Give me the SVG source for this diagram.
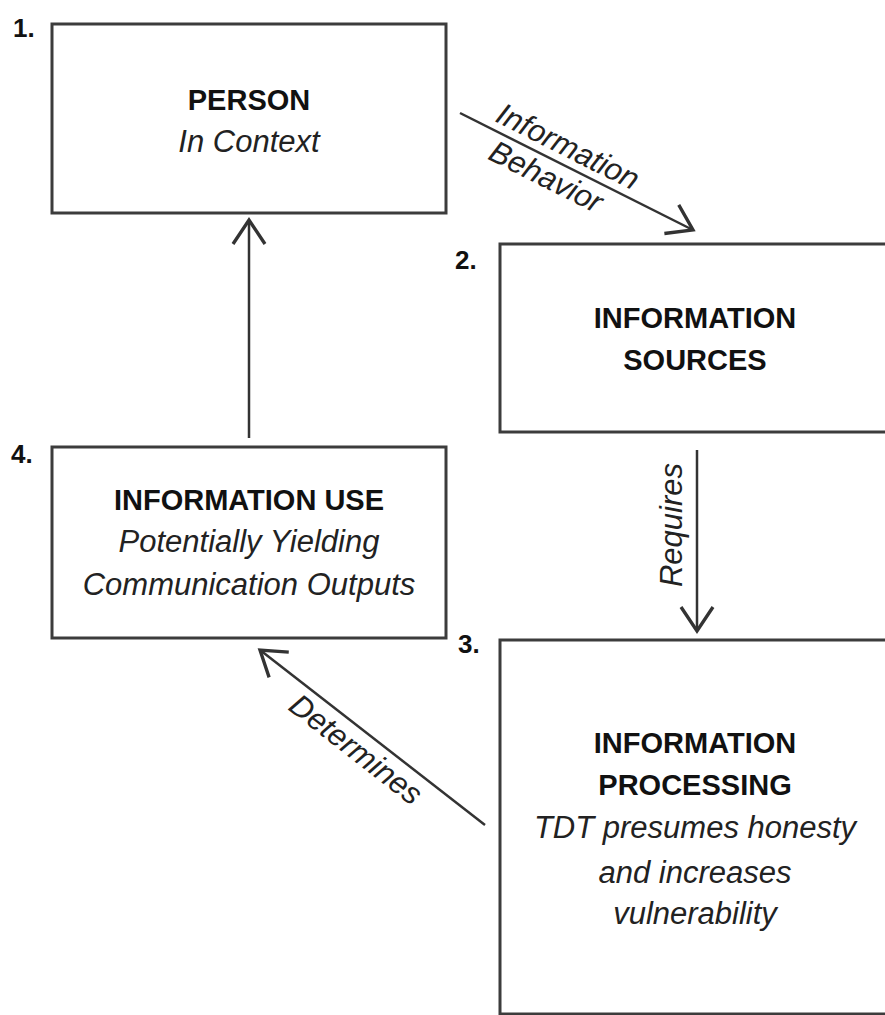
<svg xmlns="http://www.w3.org/2000/svg" width="885" height="1015" viewBox="0 0 885 1015">
<style>
.box{fill:#fff;stroke:#3c3c3c;stroke-width:3}
.num{font-family:"Liberation Sans",Arial,sans-serif;font-weight:bold;font-size:26px;fill:#111}
.t{font-family:"Liberation Sans",Arial,sans-serif;font-weight:bold;font-size:29px;fill:#111;text-anchor:middle}
.i{font-family:"Liberation Sans",Arial,sans-serif;font-style:italic;font-size:31px;fill:#222;text-anchor:middle}
.c{fill:none;stroke:#333;stroke-width:2.5}
</style>
<defs>
<marker id="ah" markerUnits="userSpaceOnUse" markerWidth="40" markerHeight="40" viewBox="-20 -15 24 30" refX="0" refY="0" orient="auto">
<path d="M-18,-12 L0,0 L-18,12" fill="none" stroke="#333" stroke-width="2.5" stroke-linejoin="miter"/>
</marker>
</defs>
<rect width="885" height="1015" fill="#fff"/>
<g id="node1">
<rect class="box" x="52" y="24" width="394" height="189"/>
<text class="num" x="13" y="37">1.</text>
<text class="t" x="249" y="110">PERSON</text>
<text class="i" x="249" y="152">In Context</text>
</g>
<g id="node2">
<rect class="box" x="500" y="244" width="420" height="188"/>
<text class="num" x="455" y="269">2.</text>
<text class="t" x="695" y="328">INFORMATION</text>
<text class="t" x="695" y="370">SOURCES</text>
</g>
<g id="node3">
<rect class="box" x="500" y="640" width="420" height="374"/>
<text class="num" x="458" y="653">3.</text>
<text class="t" x="695" y="753">INFORMATION</text>
<text class="t" x="695" y="795">PROCESSING</text>
<text class="i" x="695" y="838">TDT presumes honesty</text>
<text class="i" x="695" y="883">and increases</text>
<text class="i" x="695" y="924">vulnerability</text>
</g>
<g id="node4">
<rect class="box" x="52" y="447" width="394" height="191"/>
<text class="num" x="11" y="463">4.</text>
<text class="t" x="249" y="510">INFORMATION USE</text>
<text class="i" x="249" y="552">Potentially Yielding</text>
<text class="i" x="249" y="595">Communication Outputs</text>
</g>
<g id="connectors">
<line class="c" x1="460" y1="113" x2="693" y2="230" marker-end="url(#ah)"/>
<g transform="translate(558,162) rotate(26.7)">
<text class="i" x="2" y="-8">Information</text>
<text class="i" x="-4" y="29">Behavior</text>
</g>
<line class="c" x1="697" y1="450" x2="697" y2="631" marker-end="url(#ah)"/>
<text class="i" transform="translate(682,525) rotate(-90)" x="0" y="0">Requires</text>
<line class="c" x1="485" y1="825" x2="260" y2="650" marker-end="url(#ah)"/>
<text class="i" transform="translate(368,734) rotate(37.9)" x="0" y="30">Determines</text>
<line class="c" x1="249" y1="438" x2="249" y2="220" marker-end="url(#ah)"/>
</g>
</svg>
